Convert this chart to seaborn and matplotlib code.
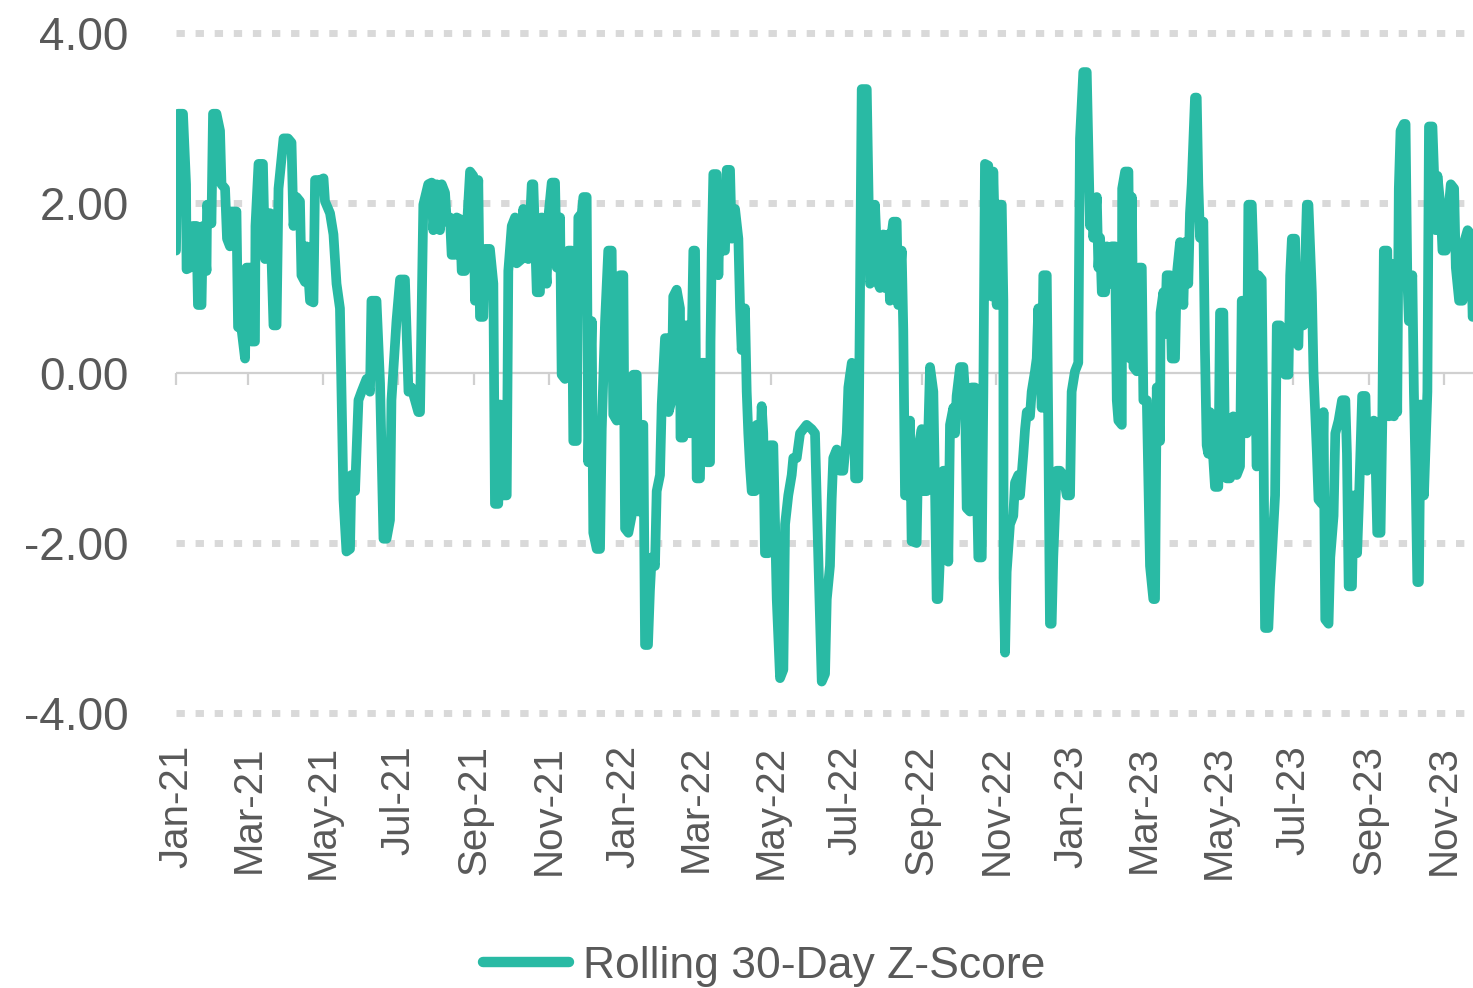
import numpy as np
import pandas as pd
import matplotlib
matplotlib.use("Agg")
import matplotlib.pyplot as plt
import matplotlib.dates as mdates
from matplotlib.lines import Line2D
import seaborn as sns

# ---------------- data ----------------
start_date = "2021-01-01"
series_name = "Rolling 30-Day Z-Score"

days_since_start = [
    0, 1.6, 5.7, 8.2, 8.6, 11.4, 13.9, 16.7, 17.9, 20.8, 22.0, 24.9, 25.3, 28.9, 30.2, 33.0, 35.9, 37.1,
    40.0, 41.6, 44.0, 45.3, 49.3, 50.6, 53.4, 56.3, 57.5, 60.3, 61.6, 64.4, 64.8, 67.3, 70.9, 72.6, 73.8,
    76.7, 77.9, 79.5, 82.0, 83.6, 87.7, 91.3, 94.2, 95.8, 98.3, 101.1, 102.3, 105.2, 106.4, 109.3, 112.1,
    113.4, 117.4, 120.3, 121.5, 125.6, 128.4, 130.9, 133.7, 135.0, 136.6, 139.0, 141.9, 143.1, 146.0,
    148.8, 151.3, 155.4, 158.2, 159.4, 163.5, 166.4, 169.2, 171.7, 174.5, 175.7, 179.8, 182.7, 186.7,
    189.6, 192.0, 194.9, 197.6, 199.0,
    201.7, 205.7, 208.5, 209.8, 212.6, 215.3, 216.7, 219.4, 220.8, 223.4, 224.8, 227.5, 228.9, 231.6,
    233.0, 235.7, 237.1, 239.8, 242.4, 243.8, 246.5, 247.9, 250.6, 252.0, 256.0, 258.8, 260.1, 262.8,
    264.2, 265.6, 269.7, 271.0, 273.8, 276.5, 277.8, 281.9, 283.2, 287.3, 290.1, 291.4, 292.8, 294.2,
    296.8, 298.2, 302.3, 303.6, 306.4, 309.1, 310.5, 313.2, 314.5, 317.2, 319.9, 322.7, 324.0, 326.8,
    328.1, 330.9, 332.2, 334.9, 336.2, 339.0, 340.3, 343.1, 345.8, 347.2, 349.9, 352.5, 355.3, 356.6,
    359.4, 362.1, 364.8, 366.2, 368.9, 371.6, 372.9, 375.7, 377.0, 378.4, 381.1, 382.5, 384.9,
    386.5, 387.9, 390.6, 392.0, 394.7, 396.1, 397.4, 398.8, 401.5, 401.7, 404.2, 405.5, 408.3, 411.0,
    411.4, 413.7, 415.1, 417.8, 419.2, 421.9, 423.3, 424.6, 427.3, 428.7, 431.4, 432.8, 435.5, 435.9,
    436.9, 438.2, 440.9, 442.3, 443.6, 445.0, 447.7, 449.1, 451.8, 453.2, 455.9, 458.6, 460.0, 461.3,
    464.0, 465.4, 466.7, 468.1, 469.5, 472.2, 473.6, 476.3, 477.6, 478.9, 480.3, 483.0, 484.4, 487.1,
    489.9, 492.6, 495.3, 496.7, 499.3, 502.1, 503.4, 506.2, 508.9, 511.6, 514.3, 518.4, 521.1, 522.5,
    526.6, 529.3, 530.7, 533.3, 534.7, 536.0, 538.8, 541.5, 544.2, 547.0, 548.3, 551.1, 552.4, 553.8,
    556.4, 557.8, 559.2, 563.3, 564.6, 566.0, 568.6, 570.0, 572.7,
    574.1, 576.8, 578.1, 580.8, 582.2, 583.6, 584.9, 587.7, 589.0, 591.8, 593.1, 594.5, 597.2, 598.6,
    599.9, 604.0, 605.3, 608.1, 609.4, 612.2, 614.9, 617.6, 619.0, 620.3, 621.6, 623.0, 625.7, 628.5,
    629.8, 631.2, 633.9, 635.3, 636.6, 639.4, 642.1, 643.4, 644.8, 647.5, 648.9, 651.6, 654.3, 657.1,
    658.4, 659.7, 662.4, 665.2, 666.5, 669.3, 670.6, 673.4, 674.7, 674.9, 676.1, 677.4, 680.1, 682.8,
    684.2, 686.9, 688.3, 691.0, 692.4, 693.8, 696.4, 697.8, 700.5, 701.9, 703.2, 706.0, 707.3, 710.1,
    711.4, 712.7, 714.1, 715.4, 718.2, 720.9, 723.6, 726.4, 729.1, 730.4, 733.1, 735.8, 737.2, 739.9,
    742.7, 745.4, 746.8, 748.1, 750.9, 752.2, 753.6, 755.0, 757.7, 759.1,
    761.7, 763.1, 765.8, 767.2, 768.5, 771.3, 771.6, 774.0, 776.7, 778.1, 779.5, 780.8, 783.5, 784.9,
    787.6, 788.9, 791.7, 794.3, 797.0, 798.4, 799.8, 802.5, 802.9, 805.2, 806.5, 807.9, 810.6, 812.0,
    814.7, 816.1, 818.8, 821.5, 822.8, 825.5, 826.9, 828.3, 831.0, 832.4, 833.7, 835.1, 837.8, 839.1,
    840.5, 841.8, 843.2, 844.6, 847.3, 850.0, 851.4, 854.1, 855.5, 856.8, 859.5, 860.9, 862.2, 865.0,
    867.7, 869.1, 871.8, 873.2, 874.5, 877.3, 878.6, 880.0, 881.3, 882.6, 885.4, 886.7, 888.1, 890.8,
    892.2, 893.6, 896.3, 897.7, 900.4, 903.1, 904.5, 907.2, 908.6, 910.0, 912.6, 914.0, 915.3, 916.7,
    919.4, 922.2, 923.5, 926.3, 927.6, 930.4, 931.7, 934.5, 935.8, 937.2, 939.9, 941.3, 944.0, 945.4,
    948.1, 950.9, 953.6, 954.9, 956.3, 959.0, 960.4, 963.2, 964.5, 967.3, 970.0, 971.4, 974.1, 976.8,
    978.2, 979.6, 982.3, 983.7, 985.0, 987.8, 989.1, 990.5, 993.2, 994.6, 995.9, 997.2, 998.6, 1001.3,
    1002.7, 1004.1, 1005.4, 1008.2, 1009.5, 1010.9, 1012.3, 1013.6, 1015.0, 1017.7, 1020.5, 1021.8,
    1024.6, 1025.9, 1027.3, 1028.7, 1031.4, 1032.8, 1035.5, 1036.9, 1039.6, 1042.3, 1043.7, 1046.4,
    1049.2, 1050.5, 1053.3, 1056.0, 1057.4, 1060.1,
]

zscore = [
    1.44, 3.05, 3.05, 2.22, 1.22, 1.24, 1.73, 1.73, 0.80, 0.80, 1.73, 1.20, 1.98, 1.76, 3.05, 3.05, 2.85, 2.22,
    2.17, 1.58, 1.49, 1.90, 1.90, 0.54, 0.52, 0.17, 1.24, 1.24, 0.37, 0.37, 1.73, 2.46, 2.46, 1.34, 1.88,
    1.88, 1.34, 0.56, 0.56, 2.17, 2.76, 2.76, 2.71, 1.73, 2.07, 2.02, 1.15, 1.07, 1.49, 0.85, 0.83,
    2.27, 2.27, 2.29, 2.02, 1.88, 1.63, 1.05, 0.76, -0.22, -1.49, -2.10, -2.07, -1.20, -1.39,
    -0.32, -0.22, -0.07, -0.22, 0.85, 0.85, -0.12, -1.95, -1.95, -1.73, -0.32, 0.61, 1.10, 1.10,
    -0.22, -0.17, -0.32, -0.46, -0.46,
    1.98, 2.22, 2.24, 1.68, 2.22, 1.68, 2.22, 2.12, 1.78, 1.83, 1.39, 1.39, 1.83, 1.81,
    1.20, 1.20, 1.68, 2.37, 2.32, 0.85, 2.27, 0.66, 0.66, 1.46, 1.46, 1.05, -1.54, -1.54,
    -0.37, -1.44, -1.44, 1.20, 1.73, 1.83, 1.29, 1.34, 1.93, 1.34, 2.22, 2.22, 1.61, 0.95,
    0.95, 1.83, 1.05, 1.83, 2.24, 2.24, 1.24, 1.83, -0.02, -0.07, 1.44, 1.44, -0.80, -0.80,
    1.83, 1.88, 2.07, 2.07, -1.05, 0.61, -1.88, -2.07, -2.07, -0.66, 0.61, 1.44, 1.44, -0.49,
    -0.56, 1.15, 1.15, -1.83, -1.88, -1.68, -0.02, -0.02, -1.63, -0.61, -0.61, -3.20, -3.20,
    -2.56, -2.17, -2.27, -1.39, -1.20, -0.37, 0.02, 0.41, 0.41, -0.46, -0.32, 0.90, 0.98, 0.76,
    -0.76, -0.76, 0.56, 0.56, -0.71, 1.44, 1.44, -1.24, -1.24, 0.12, 0.12, -1.05, -1.05, 0.37,
    1.44, 2.34, 2.34, 1.15, 1.98, 1.44, 1.44, 2.39, 2.39, 1.58, 1.93, 1.58, 0.76, 0.27,
    0.76, -0.22, -0.71, -1.10, -1.39, -1.39, -0.61, -1.10, -0.39, -0.71, -2.12, -2.12, -0.85, -0.85,
    -2.66, -3.59, -3.49, -1.78, -1.44, -1.20, -1.00, -1.00, -0.71, -0.66, -0.61, -0.66, -0.71, -1.49,
    -3.63, -3.54, -2.66, -2.27, -1.49, -1.00, -0.90, -1.15, -1.15, -0.71, -0.17, 0.12, -0.02, -1.24,
    -1.24, 0.90, 3.34, 3.34, 2.22, 1.05, 1.15, 1.98, 1.05,
    1.00, 1.63, 1.00, 1.63, 0.85, 1.63, 1.78, 1.78, 0.80, 1.44, 0.51, -1.44, -1.44, -0.56,
    -1.98, -2.00, -0.90, -0.66, -1.39, -1.39, 0.07, -0.22, -1.39, -2.66, -2.66, -2.17, -1.15, -1.15,
    -2.22, -0.61, -0.41, -0.71, -0.27, 0.07, 0.07, -0.22, -1.59, -1.63, -0.17, -0.17, -2.17, -2.17,
    -0.22, 2.46, 2.44, 0.90, 2.37, 0.80, 1.98, 1.98, 0.85, -2.41, -3.29, -2.34, -1.78, -1.68,
    -1.29, -1.20, -1.44, -0.95, -0.66, -0.46, -0.51, -0.22, 0.02, 0.17, 0.76, -0.41, 1.15, 1.15,
    -0.71, -2.95, -2.95, -2.17, -1.15, -1.15, -1.20, -1.44, -1.44, -0.22, 0.02, 0.12, 2.76, 3.54,
    3.54, 1.73, 2.07, 1.59, 2.07, 1.24, 1.59, 0.95, 0.95, 1.49,
    1.05, 1.49, 1.49, -0.32, -0.56, -0.61, 2.17, 2.37, 2.37, 0.17, 2.07, 0.07, 0.02, 1.24,
    1.24, -0.32, -0.32, -2.27, -2.66, -2.66, -0.17, -0.80, 0.71, 0.95, 0.46, 1.15, 1.15, 0.17,
    0.17, 1.15, 1.54, 0.80, 1.54, 1.05, 1.88, 2.22, 3.24, 3.24, 2.22, 1.59, 1.78, 0.27,
    -0.85, -0.95, -0.46, -0.71, -1.34, -1.34, 0.71, 0.71, -0.95, -1.24, -1.24, -0.61, -0.51, -1.20,
    -1.10, 0.85, 0.85, -0.71, 1.98, 1.98, 1.39, 0.02, -1.10, 1.15, 1.10, -0.56, -3.00, -3.00,
    -2.51, -2.17, -1.44, 0.56, 0.56, 0.12, -0.02, -0.02, 1.15, 1.58, 1.58, 0.37, 0.32, 1.24,
    0.56, 1.98, 1.98, 0.95, 0.02, -0.95, -1.49, -1.54, -0.46, -2.90, -2.95, -2.17, -1.68, -0.71,
    -0.56, -0.32, -0.32, -0.95, -2.51, -2.51, -1.44, -2.12, -1.59, -0.27, -0.27, -1.15, -0.61, -0.56,
    -1.00, -1.88, -1.88, -0.61, 1.44, 1.44, -0.51, 1.29, -0.51, 1.24, -0.46, 2.17, 2.85, 2.93,
    2.93, 1.15, 0.61, 1.15, -0.22, -1.20, -2.46, -2.46, -0.37, -1.44, -0.22, 2.90,
    2.90, 2.37, 1.68, 2.32, 1.93, 1.44, 1.44, 1.78, 2.22, 2.17, 1.24, 0.85,
    0.85, 1.54, 1.68, 1.63, 0.66, 0.70,
]

y_ticks = [-4, -2, 0, 2, 4]
x_label_months = [1, 3, 5, 7, 9, 11]
x_end_days = 1057.7

# ---------------- style ----------------
line_color = "#29BAA4"
grid_color = "#D9D9D9"
zero_color = "#D0D0D0"
text_color = "#595959"

sns.set_theme(style="white")
plt.rcParams["font.family"] = ["Liberation Sans", "DejaVu Sans"]
plt.rcParams["axes.unicode_minus"] = False

start = pd.Timestamp(start_date)
df = pd.DataFrame({
    "Date": start + pd.to_timedelta(days_since_start, unit="D"),
    "Z": zscore,
})

fig = plt.figure(figsize=(14.73, 9.88), dpi=100)
ax = fig.add_axes([176 / 1473, 0.26974, 1 - 176 / 1473, 0.70547])

# gridlines (dotted) and zero line (solid)
for yv in y_ticks:
    if yv == 0:
        ax.axhline(yv, color=zero_color, lw=1.6, zorder=1)
    else:
        ax.axhline(yv, color=grid_color, lw=5, linestyle=(0, (1.2, 1.55)),
                   dash_capstyle="butt", zorder=1, clip_on=False)

sns.lineplot(data=df, x="Date", y="Z", ax=ax, estimator=None, sort=False,
             color=line_color, linewidth=7, legend=False, zorder=3,
             solid_joinstyle="round", solid_capstyle="round")

ax.set_ylim(-4.1, 4.1)
ax.set_xlim(start, start + pd.Timedelta(days=x_end_days))

ax.set_yticks(y_ticks)
ax.yaxis.set_major_formatter(matplotlib.ticker.FormatStrFormatter("%.2f"))
ax.xaxis.set_major_locator(mdates.MonthLocator(bymonth=x_label_months))
ax.xaxis.set_major_formatter(mdates.DateFormatter("%b-%y"))

ax.tick_params(axis="y", length=0, pad=34, labelsize=33, labelcolor=text_color)
ax.tick_params(axis="x", length=0, pad=17, labelsize=29, labelcolor=text_color,
               rotation=90)

# small tick marks hanging from the zero line
tick_pos = [t for t in ax.get_xticks()
            if ax.get_xlim()[0] - 1 <= t <= ax.get_xlim()[1]]
ax.vlines(tick_pos, -0.14, 0, color=zero_color, lw=1.6, zorder=1, clip_on=False)

ax.set_xlabel("")
ax.set_ylabel("")
for s in ax.spines.values():
    s.set_visible(False)

handle = Line2D([0], [0], color=line_color, lw=7.5, solid_capstyle="round")
fig.legend([handle], [series_name], loc="center",
           bbox_to_anchor=(764 / 1473, 1 - 966 / 988), frameon=False,
           fontsize=32, handlelength=1.95, handletextpad=0.3,
           labelcolor=text_color)

fig.savefig("out.png", dpi=100, facecolor="white")
